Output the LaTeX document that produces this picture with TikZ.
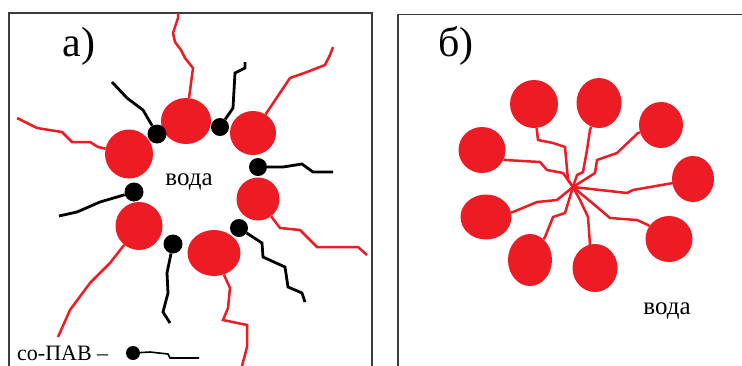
\documentclass[tikz,border=0pt]{standalone}
\usepackage{fontspec}
\setmainfont{Liberation Serif}
\usetikzlibrary{shapes.geometric}

\definecolor{headred}{RGB}{237,28,36}
\definecolor{framegray}{RGB}{60,60,60}

\tikzset{
  head/.style={ellipse,fill=headred,inner sep=0pt},
  cohead/.style={circle,fill=black,inner sep=0pt,minimum size=19pt},
  redtail/.style={draw=headred,line width=2.5pt,line join=miter},
  blacktail/.style={draw=black,line width=2.8pt,line join=miter},
  frame/.style={draw=framegray,line width=1.8pt}
}

\begin{document}
\begin{tikzpicture}[x=1pt,y=-1pt]
\useasboundingbox (0,0) rectangle (742,365);

% frames
\draw[frame](9,366) -- (9,13) -- (372,13) -- (372,366);
\draw[frame](398,366) -- (398,14.5) -- (743,14.5);

%%%%%% a) reverse micelle with co-surfactant
\node[head,minimum width=50pt,minimum height=46pt](a1) at(186,121){};
\node[head,minimum width=46pt,minimum height=44pt](a2) at(253,133){};
\node[head,minimum width=48pt,minimum height=49pt](a3) at(129,154){};
\node[head,minimum width=43pt,minimum height=43pt](a4) at(258,199){};
\node[head,minimum width=47pt,minimum height=48pt](a5) at(139,226){};
\node[head,minimum width=53pt,minimum height=46pt](a6) at(214,253){};

\draw[redtail](a1) -- (193,68) -- (185,58) -- (181,50) -- (175,42) -- (173,33) -- (178,18) -- (178,13);
\draw[redtail](a2) -- (290,78) -- (307,72) -- (325,65) -- (330,55) -- (333,47);
\draw[redtail](a3) -- (98,147) -- (90,142) -- (72,142) -- (62,132) -- (37,128) -- (17,118);
\draw[redtail](a4) -- (280,228) -- (300,230) -- (317,247) -- (358,247) -- (367,255);
\draw[redtail](a5) -- (110,263) -- (90,283) -- (70,310) -- (58,337);
\draw[redtail](a6) -- (230,288) -- (228,308) -- (223,320) -- (247,325) -- (247,347) -- (242,366);

\node[cohead](c1) at(157,134){};
\node[cohead,minimum size=18pt](c2) at(220,127){};
\node[cohead,minimum size=18pt](c3) at(258,167){};
\node[cohead](c4) at(134,192){};
\node[cohead](c5) at(173,244){};
\node[cohead,minimum size=18pt](c6) at(239,228){};

\draw[blacktail](c1) -- (143,110) -- (127,98) -- (112,82);
\draw[blacktail](c2) -- (233,108) -- (235,73) -- (245,68) -- (245,62);
\draw[blacktail](c3) -- (283,167) -- (302,164) -- (313,172) -- (333,172);
\draw[blacktail](c4) -- (100,202) -- (77,212) -- (59,216);
\draw[blacktail](c5) -- (167,273) -- (168,293) -- (163,312) -- (170,323);
\draw[blacktail](c6) -- (262,243) -- (263,257) -- (285,267) -- (288,287) -- (302,293) -- (305,302);

{\fontsize{42}{44}\selectfont
\node(la) at(79,46){а)};
}
{\fontsize{25}{28}\selectfont
\node(wa) at(189,182){вода};
}

% legend
{\fontsize{22}{24}\selectfont
\node[anchor=west,inner sep=0pt](leg) at(17,353){со-ПАВ –};
}
\node[cohead,minimum size=14pt](lc) at(133,353){};
\draw[black,line width=1.6pt](lc) -- (150,352) -- (168,354) -- (170,358) -- (199,358);

%%%%%% b) direct micelle
\coordinate(ctr) at(573,187);
\foreach\n/\x/\y/\w/\h in{1/534/104/48/48, 2/599/103/45/50, 3/661/125/44/46,
                           4/482/150/47/46, 5/693/179/42/46, 6/486/217/51/45,
                           7/669/239/47/46, 8/530/260/44/52, 9/595/268/45/48}
  {\node[head,minimum width=\w pt,minimum height=\h pt](b\n) at(\x,\y){};}

\draw[redtail](ctr) -- (568,180) -- (565,147) -- (553,143) -- (538,140) -- (b1);
\draw[redtail](ctr) -- (577,175) -- (583,172) -- (587,150) -- (590,130) -- (b2);
\draw[redtail](ctr) -- (595,173) -- (597,160) -- (617,153) -- (638,133) -- (b3);
\draw[redtail](ctr) -- (563,173) -- (547,170) -- (540,162) -- (505,160) -- (b4);
\draw[redtail](ctr) -- (600,190) -- (627,193) -- (633,190) -- (673,183) -- (b5);
\draw[redtail](ctr) -- (557,200) -- (537,202) -- (513,212) -- (b6);
\draw[redtail](ctr) -- (597,207) -- (610,218) -- (637,220) -- (648,225) -- (b7);
\draw[redtail](ctr) -- (565,213) -- (553,217) -- (545,237) -- (b8);
\draw[redtail](ctr) -- (580,200) -- (588,217) -- (590,245) -- (b9);

{\fontsize{42}{44}\selectfont
\node(lb) at(456,46){б)};
}
{\fontsize{25}{28}\selectfont
\node(wb) at(667,311){вода};
}
\end{tikzpicture}
\end{document}
